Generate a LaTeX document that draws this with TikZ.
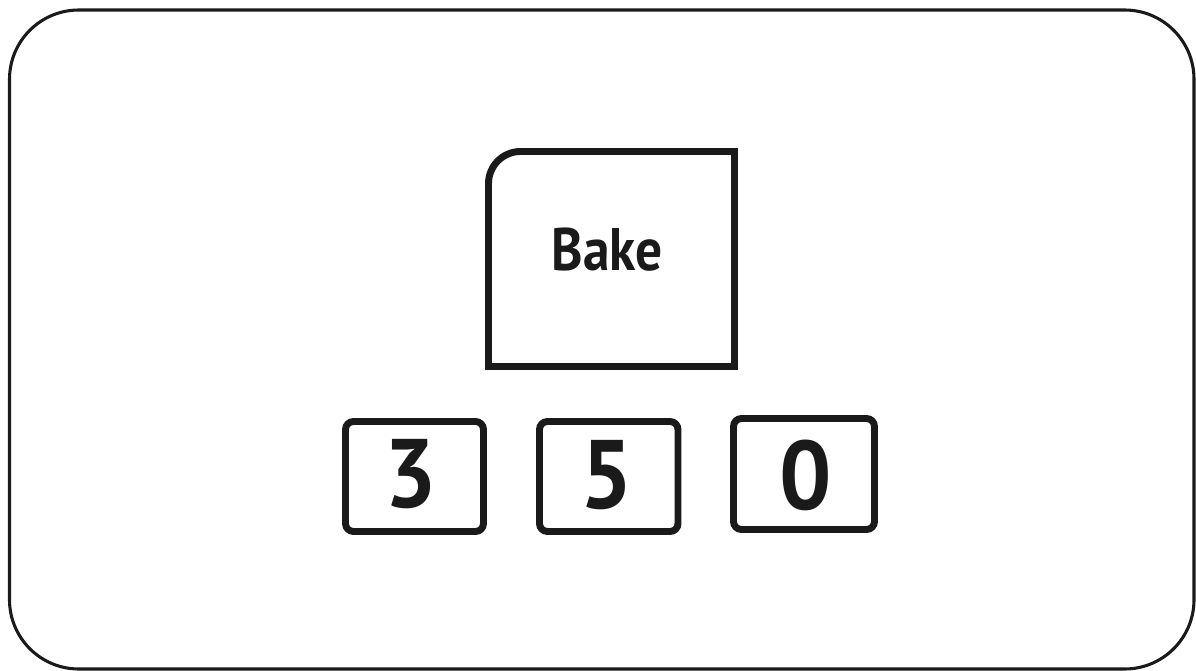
\documentclass[tikz,border=0pt]{standalone}
\usepackage{fontspec}
\setmainfont{PT Sans}
\definecolor{ink}{HTML}{1A1A1A}
\begin{document}
\begin{tikzpicture}[x=0.75pt,y=-0.75pt,
  outerframe/.style={draw=ink,line width=2.3pt,rounded corners=52pt},
  keyframe/.style={draw=ink,line width=5.2pt,rounded corners=6pt,line join=round},
  bakeframe/.style={draw=ink,line width=5.2pt,line join=miter},
  keydigit/.style={inner sep=0pt,anchor=base,text=ink,font=\fontsize{73}{73}\selectfont\bfseries,xscale=0.95},
  baketext/.style={inner sep=0pt,anchor=base,text=ink,font=\fontsize{45}{45}\selectfont\bfseries,xscale=0.89}]
\useasboundingbox (0,0) rectangle (1196,671);
\fill[white] (0,0) rectangle (1196,671);
\begin{scope}
\clip (0,0) rectangle (1196,671);
\draw[outerframe] (9.5,10) rectangle (1194,669);
\end{scope}
% Bake button
\draw[bakeframe] (488.5,366.5) -- (488.5,183.5) [rounded corners=24pt] -- (488.5,151.5) [sharp corners] -- (734.5,151.5) -- (734.5,366.5) -- cycle;
\node[baketext] (bake) at (607,270) {Bake};
% digit keys
\draw[keyframe] (345.5,421.5) rectangle (483.5,531.5);
\draw[keyframe] (539.5,421.5) rectangle (678,531.5);
\draw[keyframe] (733.5,418.5) rectangle (874.5,529.5);
\node[keydigit] (d3) at (411,507) {3};
\node[keydigit] (d5) at (606.5,508) {5};
\node[keydigit] (d0) at (805.5,509) {0};
\end{tikzpicture}
\end{document}
